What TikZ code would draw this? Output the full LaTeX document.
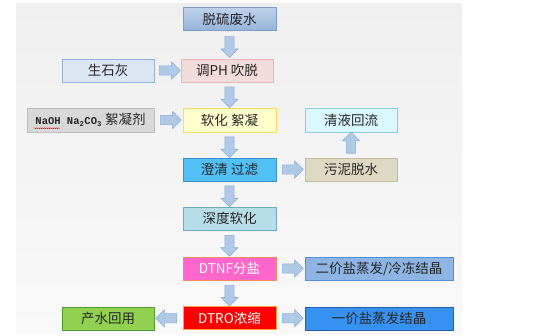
\documentclass[tikz,border=0pt]{standalone}
\usepackage{fontspec}
\setmainfont{Noto Sans CJK SC}
\newfontfamily\monofnt{Liberation Mono}
\usetikzlibrary{shapes.arrows,calc,decorations.pathmorphing}
\definecolor{txt}{HTML}{262626}
\tikzset{
  box/.style={draw, line width=0.8pt, minimum width=93pt, minimum height=23pt, inner sep=0pt,
    font=\fontsize{13.5}{15}\selectfont, text=txt},
  barrow/.style={shape=single arrow, draw=arrowline, fill=arrowfill, line width=0.6pt,
    inner sep=4.3pt, single arrow head extend=4pt, minimum height=21pt},
}
\definecolor{arrowfill}{HTML}{AFC9E6}
\definecolor{arrowline}{HTML}{8FB0D9}
\begin{document}
\begin{tikzpicture}[x=1pt,y=-1pt]
\useasboundingbox (0,0) rectangle (560,335);
\shade[top color={rgb,255:red,239;green,239;blue,239}, bottom color={rgb,255:red,249;green,249;blue,249}] (16,3) rectangle (462,333);
% nodes
\node[box, top color={rgb,255:red,190;green,209;blue,234}, bottom color={rgb,255:red,150;green,180;blue,216}, draw={rgb,255:red,126;green,156;blue,198}] (a) at (229.5,19) {脱硫废水};
\node[box, minimum width=92pt, fill={rgb,255:red,220;green,230;blue,242}, draw={rgb,255:red,149;green,179;blue,215}] (b) at (108,70.5) {生石灰};
\node[box, minimum width=92pt, fill={rgb,255:red,242;green,220;blue,219}, draw={rgb,255:red,230;green,185;blue,184}] (c) at (227,70.5) {调PH 吹脱};
\node[box, minimum width=127pt, minimum height=24pt, fill={rgb,255:red,216;green,216;blue,216}, draw={rgb,255:red,190;green,190;blue,190}] (d) at (90.5,120) {{\monofnt\bfseries\fontsize{10.5}{12}\selectfont NaOH Na\textsubscript{2}CO\textsubscript{3}} 絮凝剂};
\node[box, minimum height=24pt, fill={rgb,255:red,255;green,255;blue,204}, draw={rgb,255:red,255;green,217;blue,102}] (e) at (229.5,120) {软化 絮凝};
\node[box, minimum width=92pt, minimum height=24pt, fill={rgb,255:red,218;green,248;blue,255}, draw={rgb,255:red,147;green,205;blue,221}] (f) at (351,120) {清液回流};
\node[box, fill={rgb,255:red,80;green,192;blue,245}, draw={rgb,255:red,62;green,143;blue,207}] (g) at (229.5,169.5) {澄清 过滤};
\node[box, minimum width=92pt, fill={rgb,255:red,221;green,217;blue,195}, draw={rgb,255:red,196;green,189;blue,151}] (h) at (351,169.5) {污泥脱水};
\node[box, fill={rgb,255:red,183;green,222;blue,232}, draw={rgb,255:red,110;green,170;blue,190}] (i) at (229.5,218.5) {深度软化};
\node[box, fill={rgb,255:red,255;green,102;blue,204}, draw={rgb,255:red,240;green,140;blue,90}, text=white] (j) at (229.5,268.5) {DTNF分盐};
\node[box, minimum width=148pt, fill={rgb,255:red,142;green,180;blue,227}, draw={rgb,255:red,85;green,142;blue,213}] (k) at (379,268.5) {二价盐蒸发/冷冻结晶};
\node[box, fill={rgb,255:red,255;green,0;blue,0}, draw={rgb,255:red,255;green,160;blue,60}, text=white] (l) at (229.5,318) {DTRO浓缩};
\node[box, minimum width=92pt, fill={rgb,255:red,146;green,208;blue,80}, draw={rgb,255:red,80;green,155;blue,50}] (m) at (108,318.5) {产水回用};
\node[box, minimum width=148pt, fill={rgb,255:red,55;green,145;blue,240}, draw={rgb,255:red,35;green,95;blue,170}] (n) at (379,318.5) {一价盐蒸发结晶};
% red spell-check wave
\draw[red!80!black, line width=0.35pt, decorate, decoration={snake, amplitude=0.5pt, segment length=2pt}] (34,128.3) -- (60,128.3);
% block arrows
\node[barrow, rotate=-90] (ac) at ($(a.south)!.5!(c.north -| a.south)$) {};
\node[barrow] (bc) at ($(b.east)!.5!(c.west)$) {};
\node[barrow, rotate=-90] (ce) at ($(c.south -| e.north)!.5!(e.north)$) {};
\node[barrow] (de) at ($(d.east)!.5!(e.west)$) {};
\node[barrow, rotate=-90] (eg) at ($(e.south)!.5!(g.north)$) {};
\node[barrow] (gh) at ($(g.east)!.5!(h.west)$) {};
\node[barrow, rotate=90] (hf) at ($(h.north)!.5!(f.south)$) {};
\node[barrow, rotate=-90] (gi) at ($(g.south)!.5!(i.north)$) {};
\node[barrow, rotate=-90] (ij) at ($(i.south)!.5!(j.north)$) {};
\node[barrow] (jk) at ($(j.east)!.5!(k.west)$) {};
\node[barrow, rotate=-90] (jl) at ($(j.south)!.5!(l.north)$) {};
\node[barrow] (ln) at ($(l.east)!.5!(n.west)$) {};
\node[barrow, rotate=180] (lm) at ($(l.west)!.5!(m.east)$) {};
\end{tikzpicture}
\end{document}
